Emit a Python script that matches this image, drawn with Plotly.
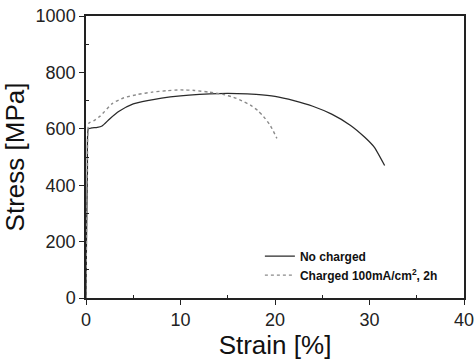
import plotly.graph_objects as go

# ---- data ----
strain_nc = [0, 0.05, 0.15, 0.25, 0.6, 1.2, 1.7, 2.5, 3.5, 5, 6.5, 8, 10, 12, 14, 16, 18, 20, 22, 24, 26, 28, 29.5, 30.5, 31.6]
stress_nc = [0, 200, 450, 600, 603, 605, 610, 635, 662, 688, 700, 709, 717, 722, 725, 725, 722, 715, 700, 680, 652, 612, 570, 535, 470]

strain_ch = [0, 0.05, 0.15, 0.3, 0.8, 1.5, 2.8, 4, 5.5, 7, 8.5, 10, 11.5, 13, 14.5, 15.6, 16.5, 17.4, 18.2, 18.8, 19.5, 20.2]
stress_ch = [0, 220, 480, 620, 628, 645, 690, 710, 722, 730, 735, 738, 736, 730, 722, 712, 699, 684, 664, 643, 612, 566]

name_nc = "No charged"
name_ch = "Charged 100mA/cm<sup>2</sup>, 2h"

x_title = "Strain [%]"
y_title = "Stress [MPa]"

FONT = "Liberation Sans, Arial, sans-serif"

fig = go.Figure()
fig.add_trace(go.Scatter(x=strain_nc, y=stress_nc, mode="lines", name=name_nc,
                         line=dict(color="#2a2a2a", width=1.3, shape="spline", smoothing=0.5)))
fig.add_trace(go.Scatter(x=strain_ch, y=stress_ch, mode="lines", name=name_ch,
                         line=dict(color="#8a8a8a", width=1.4, dash="dot", shape="spline", smoothing=0.5)))

axis_common = dict(
    showline=True, linecolor="#222222", linewidth=1.5, mirror=True,
    showgrid=False, zeroline=False, automargin=False, ticklabeloverflow="allow",
    ticks="outside", ticklen=5, tickwidth=1.2, tickcolor="#222222",
    tickfont=dict(family=FONT, size=18, color="#222222"),
)

fig.update_xaxes(range=[0, 40], tickvals=[0, 10, 20, 30, 40],
                 minor=dict(tickvals=[5, 15, 25, 35], ticks="inside", ticklen=3, tickcolor="#222222"),
                 title=dict(text=x_title, font=dict(family=FONT, size=26, color="#111111"), standoff=3),
                 **axis_common)
fig.update_yaxes(range=[0, 1000], tickvals=[0, 200, 400, 600, 800, 1000],
                 minor=dict(tickvals=[100, 300, 500, 700, 900], ticks="inside", ticklen=3, tickcolor="#222222"),
                 title=dict(text=y_title, font=dict(family=FONT, size=26, color="#111111"), standoff=4),
                 **axis_common)

fig.update_layout(
    width=474, height=361,
    margin=dict(l=86, r=10, t=16, b=63),
    plot_bgcolor="white", paper_bgcolor="white",
    legend=dict(x=0.46, y=0.2, xanchor="left", yanchor="top",
                bgcolor="rgba(0,0,0,0)", borderwidth=0,
                font=dict(family=FONT, size=12, color="#111111", weight="bold"),
                itemwidth=30, tracegroupgap=0),
    showlegend=True,
)

fig.write_html("out.html")
